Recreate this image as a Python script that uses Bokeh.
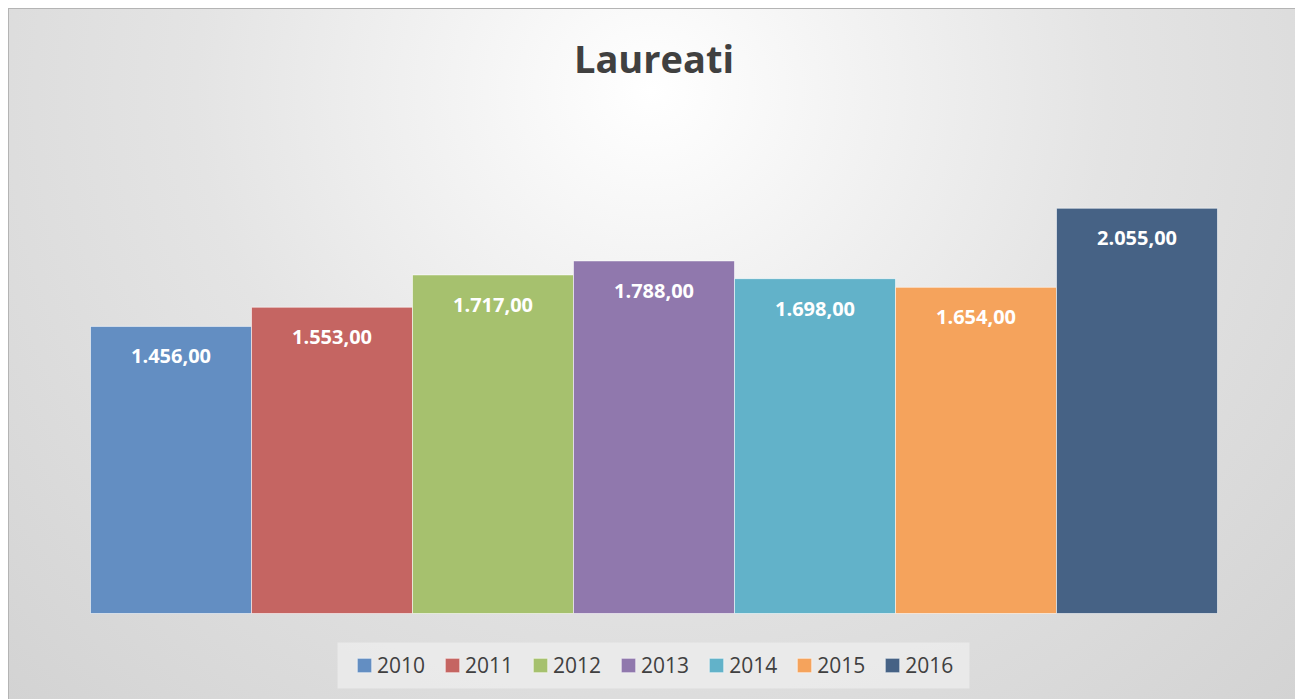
from bokeh.plotting import figure
from bokeh.models import ColumnDataSource, Legend, LegendItem, Label, Range1d, BoxAnnotation
from bokeh.core.properties import value
from bokeh.embed import file_html
from bokeh.resources import INLINE

years = ["2010", "2011", "2012", "2013", "2014", "2015", "2016"]
laureati = [1456, 1553, 1717, 1788, 1698, 1654, 2055]
labels = ["1.456,00", "1.553,00", "1.717,00", "1.788,00", "1.698,00", "1.654,00", "2.055,00"]
colors = ["#638ec2", "#c56562", "#a6c16e", "#9078ad", "#62b2c9", "#f5a35c", "#466285"]

W, H = 1287, 691
# plot-area geometry inside the chart (pixels)
left_pad, bar_px = 82, 161           # bars start 82px from the chart's left edge, 161px each
base_from_bottom = 86                # baseline distance from chart bottom
px_per_unit = 493 / 2500.0

x0 = -left_pad / bar_px
x1 = x0 + W / bar_px
y0 = -base_from_bottom / px_per_unit
y1 = y0 + H / px_per_unit


def px_x(px):
    return x0 + px / bar_px


def px_y(px_from_top):
    return y1 - px_from_top / px_per_unit


xpos = [i + 0.5 for i in range(len(years))]
src = ColumnDataSource(dict(x=xpos, top=laureati, year=years, label=labels, color=colors))

p = figure(width=W, height=H, output_backend="svg", toolbar_location=None,
           x_range=Range1d(x0, x1), y_range=Range1d(y0, y1),
           min_border=0, min_border_left=0, min_border_right=0,
           min_border_top=0, min_border_bottom=0)
p.axis.visible = False
p.grid.visible = False
p.outline_line_color = None
p.background_fill_alpha = 0
p.border_fill_alpha = 0
p.styles = {
    "margin-left": "8px",
    "margin-top": "8px",
    "background": "radial-gradient(ellipse farthest-corner at 50% 12%, #ffffff 0%, #f4f4f4 20%, #e4e4e4 50%, #d3d3d3 100%)",
    "box-shadow": "inset 1px 1px 0 #b4b4b4",
}

r = p.vbar(x="x", top="top", width=1.0, bottom=0, source=src, fill_color="color",
           line_color="white", line_alpha=0.55, line_width=1)

p.text(x="x", y="top", text="label", source=src, text_color="white",
       text_font=value("Open Sans"), text_font_style="bold", text_font_size="20px",
       text_align="center", text_baseline="alphabetic", y_offset=30)

title = Label(x=3.5, y=px_y(49), text="Laureati", text_font="Open Sans", text_font_style="bold",
              text_font_size="38px", text_color="#404040", text_align="center",
              text_baseline="alphabetic")
p.add_layout(title)

# legend backdrop (chart pixels: x 329..961, y 634..680)
backdrop = BoxAnnotation(left=px_x(329), right=px_x(961), top=px_y(634), bottom=px_y(680),
                         fill_color="#ededed", fill_alpha=0.75, line_color=None)
p.add_layout(backdrop)

items = [LegendItem(label=years[i], renderers=[r], index=i) for i in range(len(years))]
legend = Legend(items=items, orientation="horizontal", location=(347, 20),
                label_text_font="Open Sans", label_text_font_size="21px",
                label_text_color="#404040", glyph_width=18, glyph_height=18,
                label_standoff=4, spacing=18, padding=0, margin=0,
                background_fill_alpha=0, border_line_color=None)
p.add_layout(legend, "center")

open("out.html", "w").write(file_html(p, INLINE))
